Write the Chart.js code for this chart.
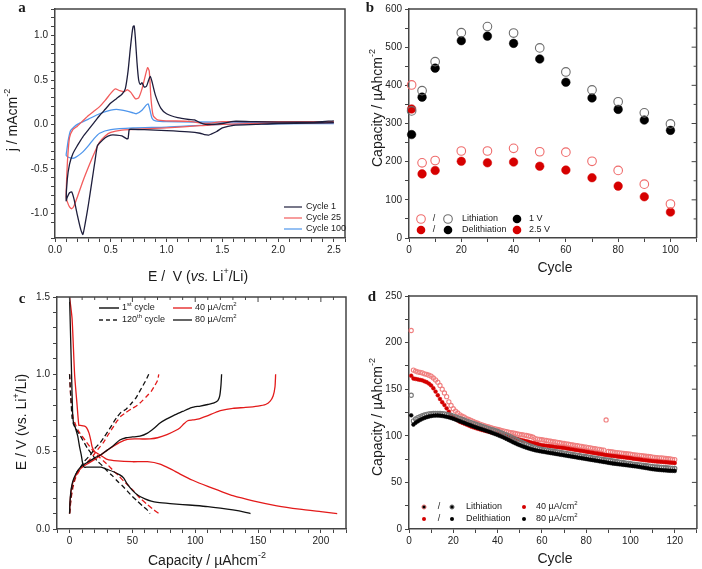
<!DOCTYPE html>
<html>
<head>
<meta charset="utf-8">
<script src="https://cdn.jsdelivr.net/npm/chart.js@4.4.0/dist/chart.umd.min.js"></script>
<style>
html, body { margin: 0; padding: 0; background: #fff; }
#wrap { position: relative; width: 702px; height: 569px; }
canvas { position: absolute; }
</style>
</head>
<body>
<div id="wrap">
  <canvas id="chartA" width="351" height="284" style="left:0;top:0"></canvas>
  <canvas id="chartB" width="351" height="284" style="left:351px;top:0"></canvas>
  <canvas id="chartC" width="351" height="285" style="left:0;top:284px"></canvas>
  <canvas id="chartD" width="351" height="285" style="left:351px;top:284px"></canvas>
</div>
<script>
// ---- panel a: cyclic voltammograms (E in V, j in mA/cm2), cathodic sweep then anodic sweep
var cv1E = [2.5, 2.3, 2.0, 1.8, 1.6, 1.5, 1.45, 1.4, 1.38, 1.34, 1.3, 1.2, 1.0, 0.8, 0.68, 0.665, 0.655, 0.64, 0.6, 0.55, 0.5, 0.45, 0.4, 0.38, 0.36, 0.33, 0.3, 0.27, 0.25, 0.23, 0.2, 0.17, 0.15, 0.13, 0.11, 0.1,
            0.11, 0.13, 0.16, 0.2, 0.25, 0.3, 0.35, 0.4, 0.45, 0.5, 0.55, 0.6, 0.63, 0.655, 0.675, 0.69, 0.7, 0.71, 0.72, 0.735, 0.75, 0.765, 0.78, 0.8, 0.82, 0.84, 0.855, 0.87, 0.9, 0.95, 1.0, 1.1, 1.2, 1.25, 1.3, 1.35, 1.4, 1.5, 1.6, 1.8, 2.0, 2.3, 2.5];
var cv1J = [0.02, 0.015, 0.01, 0.0, -0.01, -0.04, -0.08, -0.11, -0.12, -0.115, -0.1, -0.085, -0.07, -0.06, -0.055, -0.06, -0.16, -0.16, -0.13, -0.12, -0.12, -0.15, -0.21, -0.24, -0.4, -0.65, -0.9, -1.12, -1.24, -1.18, -1.02, -0.84, -0.76, -0.77, -0.82, -0.86,
            -0.62, -0.45, -0.33, -0.24, -0.14, -0.06, 0.02, 0.1, 0.17, 0.24, 0.29, 0.34, 0.4, 0.6, 0.85, 1.02, 1.1, 1.11, 0.98, 0.7, 0.5, 0.45, 0.47, 0.42, 0.43, 0.5, 0.54, 0.48, 0.33, 0.18, 0.12, 0.075, 0.055, 0.05, 0.02, 0.0, 0.0, 0.01, 0.035, 0.03, 0.025, 0.025, 0.04];
var cv25E = [2.5, 2.0, 1.5, 1.3, 1.0, 0.8, 0.6, 0.5, 0.45, 0.4, 0.35, 0.3, 0.25, 0.2, 0.17, 0.15, 0.13, 0.11, 0.1,
             0.105, 0.115, 0.13, 0.16, 0.2, 0.25, 0.3, 0.35, 0.4, 0.45, 0.5, 0.54, 0.58, 0.62, 0.65, 0.68, 0.72, 0.75, 0.78, 0.81, 0.83, 0.845, 0.86, 0.88, 0.92, 1.0, 1.2, 1.35, 1.5, 2.0, 2.5];
var cv25J = [0.02, 0.015, 0.0, -0.015, -0.04, -0.05, -0.065, -0.09, -0.13, -0.2, -0.33, -0.48, -0.64, -0.82, -0.92, -0.95, -0.93, -0.87, -0.82,
             -0.6, -0.35, -0.15, -0.06, -0.02, 0.04, 0.1, 0.15, 0.2, 0.27, 0.35, 0.4, 0.38, 0.37, 0.39, 0.36, 0.29, 0.3, 0.4, 0.55, 0.64, 0.6, 0.3, 0.1, 0.05, 0.04, 0.035, 0.01, 0.03, 0.03, 0.03];
var cv100E = [2.5, 2.0, 1.5, 1.0, 0.7, 0.5, 0.4, 0.35, 0.3, 0.25, 0.2, 0.17, 0.15, 0.12, 0.1,
              0.105, 0.12, 0.14, 0.17, 0.2, 0.3, 0.4, 0.5, 0.55, 0.6, 0.7, 0.73, 0.78, 0.82, 0.835, 0.85, 0.87, 0.9, 1.0, 1.5, 2.0, 2.5];
var cv100J = [0.01, 0.005, 0.0, -0.03, -0.04, -0.06, -0.1, -0.16, -0.24, -0.31, -0.36, -0.38, -0.38, -0.37, -0.35,
              -0.3, -0.17, -0.07, -0.03, 0.0, 0.06, 0.12, 0.16, 0.17, 0.16, 0.13, 0.12, 0.16, 0.22, 0.23, 0.17, 0.07, 0.04, 0.03, 0.025, 0.02, 0.02];

// ---- panel b: capacity vs cycle for two cut-off voltages
var bCycles = [1, 5, 10, 20, 30, 40, 50, 60, 70, 80, 90, 100];
var bLith1V = [333, 386, 462, 538, 554, 537, 498, 435, 388, 357, 328, 299];
var bDelith1V = [271, 369, 445, 517, 529, 510, 469, 408, 367, 337, 309, 282];
var bLith25V = [401, 197, 203, 228, 228, 235, 226, 225, 201, 177, 141, 89];
var bDelith25V = [338, 168, 177, 201, 197, 199, 188, 178, 158, 136, 108, 68];

// ---- panel c: potential profiles (capacity, potential)
var cBlkLith1Q = [0, 0.8, 1.6, 2.4, 2.9, 3.5, 4.8, 6.5, 8, 9.3, 10.3, 11.5, 14, 20, 25, 30, 35, 40, 43, 46, 50, 55, 60, 65, 70, 80, 90, 100, 110, 120, 130, 140, 144];
var cBlkLith1E = [1.5, 1.25, 1.0, 0.75, 0.7, 0.68, 0.65, 0.6, 0.53, 0.48, 0.43, 0.4, 0.4, 0.4, 0.4, 0.385, 0.37, 0.35, 0.33, 0.29, 0.25, 0.215, 0.195, 0.18, 0.172, 0.164, 0.158, 0.152, 0.145, 0.135, 0.123, 0.108, 0.1];
var cBlkDel1Q = [0, 0.3, 1, 2, 3.5, 6, 10, 14, 20, 25, 30, 35, 40, 45, 50, 56, 62, 67, 72, 77, 83, 90, 97, 104, 110, 115, 118, 119.5, 120.5, 121];
var cBlkDel1E = [0.1, 0.17, 0.24, 0.29, 0.33, 0.37, 0.41, 0.43, 0.46, 0.48, 0.51, 0.54, 0.575, 0.59, 0.595, 0.6, 0.62, 0.65, 0.685, 0.71, 0.735, 0.76, 0.785, 0.795, 0.805, 0.815, 0.83, 0.86, 0.93, 1.0];
var cRedLith1Q = [0, 2, 4, 6, 7.4, 8.5, 12, 13.5, 15.5, 17, 18, 20, 24, 30, 38, 50, 62, 72, 80, 88, 98, 110, 120, 130, 146, 165, 183, 200, 213];
var cRedLith1E = [1.5, 1.36, 1.0, 0.8, 0.67, 0.67, 0.665, 0.655, 0.62, 0.57, 0.53, 0.5, 0.48, 0.45, 0.44, 0.435, 0.435, 0.42, 0.39, 0.355, 0.315, 0.275, 0.245, 0.215, 0.182, 0.15, 0.128, 0.112, 0.1];
var cRedDel1Q = [0, 0.3, 1, 2, 3.5, 6, 10, 14, 20, 25, 30, 35, 40, 46, 52, 58, 64, 70, 77.5, 84, 88, 91, 94, 98, 102, 109, 115, 120, 130, 140, 150, 156, 159.5, 162, 163.5, 164];
var cRedDel1E = [0.1, 0.16, 0.23, 0.28, 0.32, 0.36, 0.4, 0.42, 0.45, 0.48, 0.51, 0.535, 0.56, 0.58, 0.583, 0.582, 0.583, 0.59, 0.61, 0.635, 0.655, 0.68, 0.7, 0.705, 0.71, 0.73, 0.75, 0.765, 0.78, 0.786, 0.795, 0.805, 0.825, 0.86, 0.92, 1.0];
var cBlkLith120Q = [0, 1, 2, 3, 4.8, 8.7, 14, 18, 22, 26, 30, 34, 38, 42, 46, 50, 54, 58, 61.6, 64];
var cBlkLith120E = [1.0, 0.85, 0.72, 0.68, 0.65, 0.6, 0.525, 0.48, 0.44, 0.41, 0.375, 0.345, 0.31, 0.28, 0.245, 0.21, 0.18, 0.15, 0.125, 0.1];
var cRedLith120Q = [0, 1, 2.9, 5, 7.4, 12.7, 19.3, 23, 27, 31, 35, 39, 43, 47, 51, 56, 61.6, 66, 71];
var cRedLith120E = [1.0, 0.85, 0.72, 0.67, 0.63, 0.57, 0.5, 0.47, 0.44, 0.41, 0.375, 0.345, 0.31, 0.28, 0.246, 0.2, 0.16, 0.13, 0.1];
var cBlkDel120Q = [0, 0.8, 2, 3.4, 6, 8.7, 12, 16.7, 20, 24.6, 28, 32, 35, 37.5, 41, 45, 49, 53, 56.5, 60, 63];
var cBlkDel120E = [0.1, 0.18, 0.26, 0.31, 0.37, 0.4, 0.44, 0.48, 0.52, 0.56, 0.6, 0.65, 0.69, 0.72, 0.755, 0.775, 0.81, 0.85, 0.9, 0.95, 1.0];
var cRedDel120Q = [0, 1.3, 3, 4.8, 8, 11.4, 15, 19.3, 23, 27, 30, 34, 38, 41, 44.4, 49, 54, 58, 61.6, 65, 68, 70, 71];
var cRedDel120E = [0.1, 0.2, 0.28, 0.33, 0.38, 0.41, 0.44, 0.48, 0.52, 0.56, 0.6, 0.65, 0.7, 0.73, 0.75, 0.775, 0.8, 0.83, 0.86, 0.89, 0.93, 0.96, 1.0];

// ---- panel d: long cycling at two current densities
var dCycles = [1, 2, 3, 4, 5, 6, 7, 8, 9, 10, 11, 12, 13, 14, 15, 16, 17, 18, 19, 20,
  21, 22, 23, 24, 25, 26, 27, 28, 29, 30, 31, 32, 33, 34, 35, 36, 37, 38, 39, 40,
  41, 42, 43, 44, 45, 46, 47, 48, 49, 50, 51, 52, 53, 54, 55, 56, 57, 58, 59, 60,
  61, 62, 63, 64, 65, 66, 67, 68, 69, 70, 71, 72, 73, 74, 75, 76, 77, 78, 79, 80,
  81, 82, 83, 84, 85, 86, 87, 88, 89, 90, 91, 92, 93, 94, 95, 96, 97, 98, 99, 100,
  101, 102, 103, 104, 105, 106, 107, 108, 109, 110, 111, 112, 113, 114, 115, 116, 117, 118, 119, 120];
var dLith40 = [213, 170.5, 169.5, 168.5, 168, 167.5, 166.5, 166, 165, 164,
  162, 160, 157.5, 154, 150, 146, 142, 136.5, 132.5, 129,
  126.5, 124.5, 122.5, 121, 120, 118.5, 117.5, 116.5, 115.5, 114.5,
  113.5, 112.5, 111.8, 111, 110.2, 109.5, 108.8, 108, 107.4, 106.8,
  106.2, 105.6, 105, 104.5, 104, 103.5, 103, 102.5, 102, 101.6,
  101.2, 100.8, 100.3, 99.8, 99.3, 98.5, 97, 96.5, 96.2, 95.8,
  95.4, 95, 94.6, 94.2, 93.8, 93.4, 93, 92.6, 92.2, 91.8,
  91.4, 91, 90.6, 90.2, 89.8, 89.4, 89, 88.6, 88.2, 87.8,
  87.4, 87, 86.6, 86.2, 85.8, 85.4, 85, 84.6, 117, 83.2,
  82.9, 82.6, 82.3, 82, 81.7, 81.4, 81.1, 80.8, 80.5, 80.2,
  79.9, 79.6, 79.3, 79, 78.7, 78.4, 78.1, 77.8, 77.5, 77.2,
  76.9, 76.6, 76.4, 76.2, 76, 75.7, 75.4, 75.1, 74.8, 74.5];
var dDelith40 = [164.5, 161.5, 161, 160.5, 160, 159.5, 158.5, 157.5, 156, 154,
  151, 147.5, 143.5, 139.5, 136, 133, 129.5, 126, 122.5, 120,
  118, 116.5, 115, 114, 113, 112, 111, 110, 109.2, 108.4,
  107.6, 106.9, 106.2, 105.6, 105, 104.4, 103.8, 103.2, 102.6, 102,
  101.4, 100.8, 100.2, 99.6, 99, 98.4, 97.8, 97.2, 96.6, 96,
  95.4, 94.8, 94.2, 93.6, 93, 92.4, 91.8, 91.2, 90.6, 90,
  89.7, 89.4, 89.1, 88.8, 88.5, 88.2, 87.9, 87.6, 87.3, 87,
  86.6, 86.2, 85.8, 85.4, 85, 84.6, 84.2, 83.8, 83.4, 83,
  82.6, 82.2, 81.8, 81.4, 81, 80.6, 80.2, 79.8, 79.4, 79,
  78.7, 78.4, 78.1, 77.8, 77.5, 77.2, 76.9, 76.6, 76.3, 76,
  75.6, 75.2, 74.9, 74.6, 74.3, 74, 73.7, 73.4, 73.1, 72.8,
  72.6, 72.4, 72.2, 72, 71.8, 71.6, 71.4, 71.2, 71, 70.8];
var dLith80 = [143.5, 116, 118, 119.5, 120.5, 121.5, 122.3, 123, 123.5, 123.8,
  124, 124, 124, 124, 123.8, 123.5, 123, 122.5, 122, 121.2,
  120.3, 119.4, 118.5, 117.6, 116.7, 115.8, 115, 114.2, 113.4, 112.6,
  111.8, 111, 110.2, 109.4, 108.6, 107.8, 107, 106.2, 105.4, 104.6,
  103.7, 102.8, 101.9, 100.9, 99.9, 98.8, 97.6, 96.4, 95.2, 94,
  92.9, 91.8, 90.8, 89.8, 88.9, 88, 87.3, 86.6, 86, 85.5,
  85, 84.6, 84.2, 83.8, 83.4, 83, 82.6, 82.2, 81.8, 81.4,
  81, 80.6, 80.2, 79.8, 79.4, 79, 78.6, 78.2, 77.9, 77.5,
  77.1, 76.7, 76.3, 75.9, 75.6, 75.2, 74.8, 74.5, 74.1, 73.8,
  73.4, 73, 72.6, 72.2, 71.8, 71.5, 71.1, 70.7, 70.4, 70,
  69.7, 69.4, 69.1, 68.8, 68.5, 68.2, 67.9, 67.6, 67.3, 67,
  66.7, 66.5, 66.3, 66.1, 65.9, 65.7, 65.5, 65.3, 65.1, 64.9];
var dDelith80 = [122, 112, 114, 115.5, 117, 118.2, 119.2, 120, 120.7, 121.2,
  121.6, 121.8, 121.8, 121.6, 121.3, 120.9, 120.4, 119.8, 119.1, 118.3,
  117.4, 116.5, 115.6, 114.7, 113.8, 112.9, 112, 111.1, 110.2, 109.3,
  108.5, 107.7, 106.9, 106.1, 105.3, 104.5, 103.6, 102.7, 101.8, 100.9,
  99.9, 98.9, 97.8, 96.7, 95.5, 94.3, 93.1, 92, 90.9, 89.9,
  89, 88.1, 87.3, 86.5, 85.8, 85.1, 84.5, 84, 83.5, 83.1,
  82.7, 82.3, 81.9, 81.5, 81.1, 80.7, 80.3, 79.9, 79.5, 79.1,
  78.7, 78.3, 77.9, 77.5, 77.1, 76.7, 76.3, 75.9, 75.5, 75.1,
  74.7, 74.3, 73.9, 73.5, 73.1, 72.7, 72.3, 71.9, 71.5, 71.1,
  70.7, 70.3, 70, 69.7, 69.4, 69.1, 68.8, 68.5, 68.2, 67.9,
  67.6, 67.3, 67, 66.6, 66.2, 65.8, 65.4, 65, 64.6, 64.2,
  63.9, 63.6, 63.4, 63.2, 63, 62.8, 62.6, 62.5, 62.4, 62.3];

var FONT = '"Liberation Sans", Arial, sans-serif';
var SERIF = '"Liberation Serif", "DejaVu Serif", serif';
Chart.defaults.font.family = FONT;
Chart.defaults.color = '#222';
Chart.defaults.animation = false;

function pts(xs, ys) {
  return xs.map(function (x, i) { return { x: x, y: ys[i] }; });
}

function isMajor(v, m) {
  var r = v / m;
  return Math.abs(r - Math.round(r)) < 1e-6;
}

function axis(pos, min, max, step, major, dec, size) {
  return {
    type: 'linear', position: pos, min: min, max: max,
    ticks: {
      stepSize: step, maxTicksLimit: 1000, autoSkip: false, maxRotation: 0,
      color: '#222', font: { size: 10 }, padding: pos === 'bottom' ? 2 : 3,
      callback: function (v) { return isMajor(v, major) ? v.toFixed(dec) : ''; }
    },
    grid: { drawOnChartArea: false, tickLength: 4, tickColor: '#444', tickWidth: 1 },
    border: { color: '#444', width: 1.5 },
    afterFit: function (s) { if (pos === 'bottom') s.height = size; else s.width = size; }
  };
}

// text with italic / superscript pieces: strings or [text, 'it,sup,b,serif']
function drawRich(ctx, t) {
  var size = t.size || 14;
  var segs = t.segs.map(function (s) {
    return typeof s === 'string' ? { t: s, f: [] } : { t: s[0], f: s[1].split(',') };
  });
  function font(s) {
    var sz = s.f.indexOf('sup') >= 0 ? Math.round(size * 0.65) : size;
    return (s.f.indexOf('it') >= 0 ? 'italic ' : '') + (s.f.indexOf('b') >= 0 ? 'bold ' : '') +
      sz + 'px ' + (s.f.indexOf('serif') >= 0 ? SERIF : FONT);
  }
  var w = 0;
  segs.forEach(function (s) { ctx.font = font(s); w += ctx.measureText(s.t).width; });
  ctx.save();
  ctx.translate(t.x, t.y);
  if (t.rot) ctx.rotate(t.rot);
  ctx.fillStyle = t.color || '#1a1a1a';
  ctx.textBaseline = 'middle';
  ctx.textAlign = 'left';
  var x = t.align === 'left' ? 0 : -w / 2;
  segs.forEach(function (s) {
    ctx.font = font(s);
    ctx.fillText(s.t, x, s.f.indexOf('sup') >= 0 ? -size * 0.38 : 0);
    x += ctx.measureText(s.t).width;
  });
  ctx.restore();
}

var deco = {
  id: 'deco',
  afterDraw: function (chart, args, o) {
    var ctx = chart.ctx, a = chart.chartArea;
    ctx.save();
    ctx.strokeStyle = '#444';
    ctx.lineWidth = 1.5;
    ctx.beginPath();
    ctx.moveTo(a.left, a.top); ctx.lineTo(a.right, a.top); ctx.lineTo(a.right, a.bottom);
    ctx.stroke();
    ctx.lineWidth = 1;
    if (o.top) {
      var sx = chart.scales.x;
      sx.ticks.forEach(function (t) {
        var p = sx.getPixelForValue(t.value);
        if (p <= a.left + 1 || p >= a.right - 1) return;
        ctx.beginPath(); ctx.moveTo(p, a.top); ctx.lineTo(p, a.top + (t.label ? 5 : 3)); ctx.stroke();
      });
    }
    if (o.right) {
      var sy = chart.scales.y;
      sy.ticks.forEach(function (t) {
        var p = sy.getPixelForValue(t.value);
        if (p <= a.top + 1 || p >= a.bottom - 1) return;
        ctx.beginPath(); ctx.moveTo(a.right, p); ctx.lineTo(a.right - (t.label ? 5 : 3), p); ctx.stroke();
      });
    }
    (o.lines || []).forEach(function (l) {
      ctx.strokeStyle = l.c; ctx.lineWidth = l.w || 1.3; ctx.setLineDash(l.dash || []);
      ctx.beginPath(); ctx.moveTo(l.x1, l.y); ctx.lineTo(l.x2, l.y); ctx.stroke();
    });
    ctx.setLineDash([]);
    (o.marks || []).forEach(function (m) {
      ctx.beginPath(); ctx.arc(m.x, m.y, m.r, 0, Math.PI * 2);
      if (m.fill) { ctx.fillStyle = m.fill; ctx.fill(); }
      if (m.stroke) { ctx.strokeStyle = m.stroke; ctx.lineWidth = m.lw || 1; ctx.stroke(); }
    });
    (o.texts || []).forEach(function (t) { drawRich(ctx, t); });
    ctx.restore();
  }
};

function options(scales, pad, dec) {
  return {
    responsive: false,
    animation: false,
    layout: { padding: { left: 0, bottom: 0, top: pad.top, right: pad.right } },
    scales: scales,
    plugins: { legend: { display: false }, tooltip: { enabled: false }, deco: dec }
  };
}

function lineSet(xs, ys, color, dash) {
  return {
    data: pts(xs, ys), showLine: true, borderColor: color, borderWidth: 1.3,
    borderDash: dash || [], pointRadius: 0, tension: 0.2
  };
}

function markSet(xs, ys, color, open, r) {
  return {
    data: pts(xs, ys), showLine: false, clip: false,
    pointRadius: r, pointBorderWidth: open ? 1.1 : 0.5,
    pointBackgroundColor: open ? 'rgba(255,255,255,0)' : color,
    pointBorderColor: color
  };
}

var cvBlack = '#1e1e3c', cvRed = '#f25c5c', cvBlue = '#4f96ec';
var capTitle = ['Capacity / µAhcm', ['-2', 'sup']];

new Chart(document.getElementById('chartA'), {
  type: 'scatter',
  data: { datasets: [
    lineSet(cv1E, cv1J, cvBlack),
    lineSet(cv25E, cv25J, cvRed),
    lineSet(cv100E, cv100J, cvBlue)
  ] },
  options: options({
    x: axis('bottom', 0, 2.6, 0.1, 0.5, 1, 46),
    y: axis('left', -1.28, 1.3, 0.1, 0.5, 1, 55)
  }, { top: 6, right: 6 }, {
    lines: [
      { x1: 284, x2: 302, y: 207, c: cvBlack, w: 1.2 },
      { x1: 284, x2: 302, y: 218, c: cvRed, w: 1.2 },
      { x1: 284, x2: 302, y: 229, c: cvBlue, w: 1.2 }
    ],
    texts: [
      { x: 22, y: 8, size: 15, segs: [['a', 'b,serif']] },
      { x: 306, y: 207, size: 9, align: 'left', segs: ['Cycle 1'] },
      { x: 306, y: 218, size: 9, align: 'left', segs: ['Cycle 25'] },
      { x: 306, y: 229, size: 9, align: 'left', segs: ['Cycle 100'] },
      { x: 198, y: 277, size: 14, segs: ['E /  V (', ['vs.', 'it'], ' Li', ['+', 'sup'], '/Li)'] },
      { x: 13, y: 120, size: 14, rot: -Math.PI / 2, segs: ['j / mAcm', ['-2', 'sup']] }
    ]
  }),
  plugins: [deco]
});

var pinkB = '#ef6b6b', greyB = '#6e6e6e', redB = '#d60000';
new Chart(document.getElementById('chartB'), {
  type: 'scatter',
  data: { datasets: [
    markSet(bCycles, bLith25V, pinkB, true, 4.3),
    markSet(bCycles, bLith1V, greyB, true, 4.3),
    markSet(bCycles, bDelith25V, redB, false, 4.3),
    markSet(bCycles, bDelith1V, '#000', false, 4.3)
  ] },
  options: options({
    x: axis('bottom', 0, 110, 10, 20, 0, 46),
    y: axis('left', 0, 600, 50, 100, 0, 58)
  }, { top: 6, right: 3 }, {
    right: true,
    marks: [
      { x: 70, y: 219, r: 4.3, stroke: pinkB, lw: 1.1 },
      { x: 97, y: 219, r: 4.3, stroke: greyB, lw: 1.1 },
      { x: 166, y: 219, r: 4.3, fill: '#000' },
      { x: 70, y: 230, r: 4.3, fill: redB },
      { x: 97, y: 230, r: 4.3, fill: '#000' },
      { x: 166, y: 230, r: 4.3, fill: redB }
    ],
    texts: [
      { x: 19, y: 8, size: 15, segs: [['b', 'b,serif']] },
      { x: 83, y: 219, size: 9, segs: ['/'] },
      { x: 83, y: 230, size: 9, segs: ['/'] },
      { x: 111, y: 219, size: 9, align: 'left', segs: ['Lithiation'] },
      { x: 111, y: 230, size: 9, align: 'left', segs: ['Delithiation'] },
      { x: 178, y: 219, size: 9, align: 'left', segs: ['1 V'] },
      { x: 178, y: 230, size: 9, align: 'left', segs: ['2.5 V'] },
      { x: 204, y: 268, size: 14, segs: ['Cycle'] },
      { x: 27, y: 108, size: 14, rot: -Math.PI / 2, segs: capTitle }
    ]
  }),
  plugins: [deco]
});

var redC = '#e31a1a', blackC = '#111';
new Chart(document.getElementById('chartC'), {
  type: 'scatter',
  data: { datasets: [
    lineSet(cBlkLith1Q, cBlkLith1E, blackC),
    lineSet(cBlkDel1Q, cBlkDel1E, blackC),
    lineSet(cRedLith1Q, cRedLith1E, redC),
    lineSet(cRedDel1Q, cRedDel1E, redC),
    lineSet(cBlkLith120Q, cBlkLith120E, blackC, [5, 3]),
    lineSet(cBlkDel120Q, cBlkDel120E, blackC, [5, 3]),
    lineSet(cRedLith120Q, cRedLith120E, redC, [5, 3]),
    lineSet(cRedDel120Q, cRedDel120E, redC, [5, 3])
  ] },
  options: options({
    x: axis('bottom', -10, 220, 10, 50, 0, 40),
    y: axis('left', 0, 1.5, 0.1, 0.5, 1, 57)
  }, { top: 13, right: 5 }, {
    top: true,
    lines: [
      { x1: 99, x2: 119, y: 24, c: '#555', w: 2 },
      { x1: 99, x2: 119, y: 36, c: '#222', w: 1.3, dash: [4, 3] },
      { x1: 173, x2: 192, y: 24, c: redC, w: 1.3 },
      { x1: 173, x2: 192, y: 36, c: blackC, w: 1.3 }
    ],
    texts: [
      { x: 22, y: 15, size: 15, segs: [['c', 'b,serif']] },
      { x: 122, y: 24, size: 9, align: 'left', segs: ['1', ['st', 'sup'], ' cycle'] },
      { x: 122, y: 36, size: 9, align: 'left', segs: ['120', ['th', 'sup'], ' cycle'] },
      { x: 195, y: 24, size: 9, align: 'left', segs: ['40 µA/cm', ['2', 'sup']] },
      { x: 195, y: 36, size: 9, align: 'left', segs: ['80 µA/cm', ['2', 'sup']] },
      { x: 207, y: 277, size: 14, segs: capTitle },
      { x: 22, y: 138, size: 14, rot: -Math.PI / 2, segs: ['E / V (vs. Li', ['+', 'sup'], '/Li)'] }
    ]
  }),
  plugins: [deco]
});

var pinkD = '#f07f7f', greyD = '#777', redD = '#d40000';
new Chart(document.getElementById('chartD'), {
  type: 'scatter',
  data: { datasets: [
    markSet(dCycles, dDelith80, '#000', false, 1.9),
    markSet(dCycles, dLith80, greyD, true, 2.1),
    markSet(dCycles, dDelith40, redD, false, 1.9),
    markSet(dCycles, dLith40, pinkD, true, 2.1)
  ] },
  options: options({
    x: axis('bottom', 0, 130, 10, 20, 0, 40),
    y: axis('left', 0, 250, 25, 50, 0, 58)
  }, { top: 12, right: 2 }, {
    right: true,
    marks: [
      { x: 73, y: 223, r: 2.1, stroke: pinkD, lw: 1 },
      { x: 101, y: 223, r: 2.1, stroke: greyD, lw: 1 },
      { x: 173, y: 223, r: 2, fill: redD },
      { x: 73, y: 235, r: 2, fill: redD },
      { x: 101, y: 235, r: 2, fill: '#000' },
      { x: 173, y: 235, r: 2, fill: '#000' }
    ],
    texts: [
      { x: 21, y: 13, size: 15, segs: [['d', 'b,serif']] },
      { x: 88, y: 223, size: 9, segs: ['/'] },
      { x: 88, y: 235, size: 9, segs: ['/'] },
      { x: 115, y: 223, size: 9, align: 'left', segs: ['Lithiation'] },
      { x: 115, y: 235, size: 9, align: 'left', segs: ['Delithiation'] },
      { x: 185, y: 223, size: 9, align: 'left', segs: ['40 µA/cm', ['2', 'sup']] },
      { x: 185, y: 235, size: 9, align: 'left', segs: ['80 µA/cm', ['2', 'sup']] },
      { x: 204, y: 275, size: 14, segs: ['Cycle'] },
      { x: 27, y: 133, size: 14, rot: -Math.PI / 2, segs: capTitle }
    ]
  }),
  plugins: [deco]
});
</script>
</body>
</html>
